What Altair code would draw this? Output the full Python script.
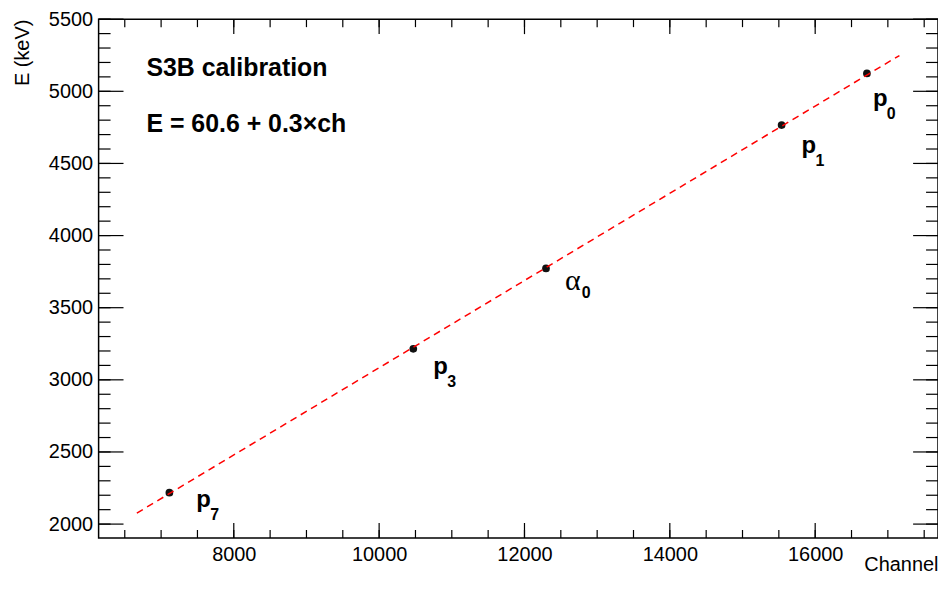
import altair as alt
import pandas as pd

# ---- data ----
labels_main = ["p", "p", "α", "p", "p"]
labels_sub = ["7", "3", "0", "1", "0"]
channel = [7114, 10470, 12296, 15538, 16712]
energy = [2218, 3215, 3772, 4766, 5124]

fit_channel = [6666, 17159]
fit_energy = [2076, 5248]

x_major = [8000, 10000, 12000, 14000, 16000]
x_minor = list(range(6500, 18000, 500))
y_major = [2000, 2500, 3000, 3500, 4000, 4500, 5000, 5500]
y_minor = list(range(2000, 5600, 100))

X_DOMAIN = [6140, 17690]
Y_DOMAIN = [1904, 5500]

W, H = 843, 521
FONT = "Liberation Sans"

pts = pd.DataFrame({"ch": channel, "E": energy})
fit = pd.DataFrame({"ch": fit_channel, "E": fit_energy})
one = pd.DataFrame({"k": [0]})

xs = alt.Scale(domain=X_DOMAIN, nice=False, zero=False)
ys = alt.Scale(domain=Y_DOMAIN, nice=False, zero=False)

x_axis = alt.Axis(values=x_major, tickSize=0, domain=False, grid=False, format="d",
                  labelFont=FONT, labelFontSize=20, labelColor="black", labelPadding=7,
                  title="Channel", titleFont=FONT, titleFontSize=20, titleFontWeight="normal",
                  titleColor="black", titleX=W, titleY=33, titleAlign="right",
                  titleBaseline="alphabetic", titleAnchor="end")
y_axis = alt.Axis(values=y_major, tickSize=0, domain=False, grid=False, format="d",
                  labelFont=FONT, labelFontSize=20, labelColor="black", labelPadding=6,
                  title="E (keV)", titleFont=FONT, titleFontSize=20, titleFontWeight="normal",
                  titleColor="black", titleX=-70, titleY=0, titleAlign="right",
                  titleAngle=270, titleBaseline="alphabetic", titleAnchor="end")


def X(field=None, datum=None):
    if datum is not None:
        return alt.X(datum=datum, scale=xs, axis=x_axis)
    return alt.X(field, type="quantitative", scale=xs, axis=x_axis)


def Y(field=None, datum=None):
    if datum is not None:
        return alt.Y(datum=datum, scale=ys, axis=y_axis)
    return alt.Y(field, type="quantitative", scale=ys, axis=y_axis)


points = alt.Chart(pts).mark_circle(color="#111111", size=60, opacity=1).encode(
    x=X("ch"), y=Y("E"))

fit_line = alt.Chart(fit).mark_line(color="#ff0000", strokeWidth=1.5, strokeDash=[7, 5]).encode(
    x=X("ch"), y=Y("E"))


# tick marks drawn inside the frame on all four sides
def xticks(vals, length):
    d = pd.DataFrame({"v": vals})
    bottom = alt.Chart(d).mark_rule(color="black", strokeWidth=1.2).encode(
        x=X("v"), y=alt.value(H), y2=alt.value(H - length))
    top = alt.Chart(d).mark_rule(color="black", strokeWidth=1.2).encode(
        x=X("v"), y=alt.value(0), y2=alt.value(length))
    return [bottom, top]


def yticks(vals, length):
    d = pd.DataFrame({"v": vals})
    left = alt.Chart(d).mark_rule(color="black", strokeWidth=1.2).encode(
        y=Y("v"), x=alt.value(0), x2=alt.value(length))
    right = alt.Chart(d).mark_rule(color="black", strokeWidth=1.2).encode(
        y=Y("v"), x=alt.value(W), x2=alt.value(W - length))
    return [left, right]


tick_layers = xticks(x_major, 15) + xticks(x_minor, 8) + yticks(y_major, 25) + yticks(y_minor, 12)

# point labels (offsets relative to each point, in pixels)
main_off = [(27, 14), (20, 25), (19, 22), (20, 28), (6, 33)]
label_layers = []
for i in range(len(channel)):
    dx, dy = main_off[i]
    is_alpha = labels_main[i] == "α"
    label_layers.append(
        alt.Chart(one).mark_text(
            text=labels_main[i], align="left", baseline="alphabetic", dx=dx, dy=dy,
            font="Liberation Serif" if is_alpha else FONT,
            fontSize=30 if is_alpha else 24,
            fontWeight="normal" if is_alpha else "bold", color="black",
        ).encode(x=X(datum=channel[i]), y=Y(datum=energy[i]))
    )
    sdx = dx + (17 if is_alpha else 14)
    sdy = dy + (8 if is_alpha else 13)
    label_layers.append(
        alt.Chart(one).mark_text(
            text=labels_sub[i], align="left", baseline="alphabetic", dx=sdx, dy=sdy,
            font=FONT, fontSize=16, fontWeight="bold", color="black",
        ).encode(x=X(datum=channel[i]), y=Y(datum=energy[i]))
    )

title1 = alt.Chart(one).mark_text(
    text="S3B calibration", align="left", baseline="alphabetic",
    font=FONT, fontSize=25, fontWeight="bold", color="black",
).encode(x=alt.value(48), y=alt.value(57))
title2 = alt.Chart(one).mark_text(
    text="E = 60.6 + 0.3×ch", align="left", baseline="alphabetic",
    font=FONT, fontSize=25, fontWeight="bold", color="black",
).encode(x=alt.value(48), y=alt.value(113))

chart = alt.layer(
    points, fit_line, *tick_layers, *label_layers, title1, title2
).properties(
    width=W, height=H,
    padding={"left": 91, "top": 10, "right": 0, "bottom": 37},
    autosize=alt.AutoSizeParams(type="none"),
).configure(
    background="white"
).configure_view(
    stroke="black", strokeWidth=1.5
)

chart.save("out.html", embed_options={"renderer": "svg", "actions": False})
